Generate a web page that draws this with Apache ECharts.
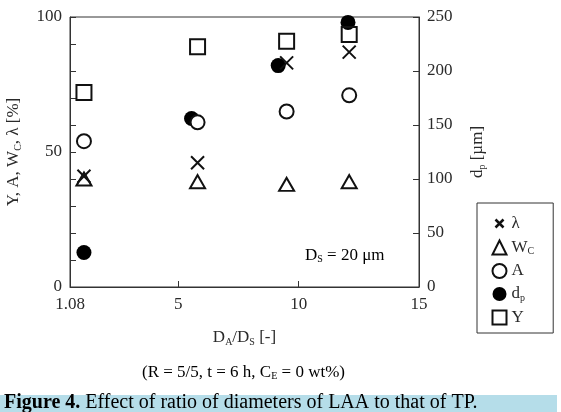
<!DOCTYPE html>
<html>
<head>
<meta charset="utf-8">
<script src="https://cdn.jsdelivr.net/npm/echarts@6/dist/echarts.min.js"></script>
<style>
  html, body { margin: 0; padding: 0; background: #fff; }
  #chart { width: 561px; height: 412px; }
</style>
</head>
<body>
<div id="chart"></div>
<script>
  // D_A/D_S on the x axis
  const daDs = [1.08, 5.8, 9.5, 12.1];
  // filled circles sit a little left of the others
  const daDsDp = [1.08, 5.55, 9.15, 12.05];

  // left axis [%]
  const lambda = [41, 46, 83, 87];
  const wc = [40, 39, 38, 39];
  const aVal = [54, 61, 65, 71];
  const yVal = [72, 89, 91, 93.5];
  // right axis [µm]
  const dp = [32, 156, 205, 245];

  const xTickValues = [5, 10, 15];
  const xLabelValues = [0.5, 5, 10, 15];
  const xLabelTexts = ['1.08', '5', '10', '15'];

  const font = 'Liberation Serif';
  const ink = '#2a2a2a';
  const axisColor = '#333';

  function pairs(xs, ys) {
    return ys.map((v, i) => [xs[i], v]);
  }

  const rich = {
    n: { fontFamily: font, fontSize: 17, color: ink },
    s: { fontFamily: font, fontSize: 10, color: ink, padding: [8, 0, 0, 0] }
  };

  const crossPath = 'path://M0,0L10,10M10,0L0,10';
  // smaller cross in the legend box (the bare moves keep the icon frame)
  const crossIcon = 'path://M0,0M14,14M3,3L11,11M11,3L3,11';

  let myChart = echarts.init(document.getElementById('chart'));

  let options = {
    backgroundColor: '#fff',
    animation: false,
    grid: {
      left: 70, right: 142, top: 17, bottom: 125,
      outerBoundsMode: 'none',
      containLabel: false,
      show: true, borderColor: axisColor, borderWidth: 1
    },
    xAxis: {
      type: 'value',
      min: 0.5,
      max: 15,
      name: '{n|D}{s|A}{n|/D}{s|S}{n| [-]}',
      nameLocation: 'middle',
      nameGap: 42,
      nameTextStyle: { rich: rich },
      axisLine: { show: true, lineStyle: { color: axisColor } },
      axisTick: {
        show: true, inside: true, length: 6,
        customValues: xTickValues,
        lineStyle: { color: axisColor }
      },
      axisLabel: {
        customValues: xLabelValues,
        formatter: function (v) {
          let i = xLabelValues.indexOf(v);
          return i >= 0 ? xLabelTexts[i] : '';
        },
        fontFamily: font, fontSize: 17, color: ink, margin: 9
      },
      splitLine: { show: false }
    },
    yAxis: [{
      type: 'value',
      min: 0, max: 100, interval: 10,
      name: '{n|Y, A, W}{s|C}{n|, λ [%]}',
      nameLocation: 'middle',
      nameRotate: 90,
      nameGap: 47,
      nameTextStyle: { rich: rich },
      axisLine: { show: true, lineStyle: { color: axisColor } },
      axisTick: { show: true, inside: true, length: 6, lineStyle: { color: axisColor } },
      axisLabel: {
        formatter: function (v) { return v % 50 === 0 ? String(v) : ''; },
        fontFamily: font, fontSize: 17, color: ink, margin: 8
      },
      splitLine: { show: false }
    }, {
      type: 'value',
      min: 0, max: 250, interval: 50,
      position: 'right',
      name: '{n|d}{s|p}{n| [µm]}',
      nameLocation: 'middle',
      nameRotate: 90,
      nameGap: 50,
      nameTextStyle: { rich: rich },
      axisLine: { show: true, lineStyle: { color: axisColor } },
      axisTick: { show: true, inside: true, length: 6, lineStyle: { color: axisColor } },
      axisLabel: { fontFamily: font, fontSize: 17, color: ink, margin: 8 },
      splitLine: { show: false }
    }],
    legend: {
      orient: 'vertical',
      left: 477,
      top: 203,
      padding: [11, 19, 7, 13],
      itemWidth: 14,
      itemHeight: 14,
      itemGap: 6,
      borderColor: axisColor,
      borderWidth: 1,
      textStyle: { rich: rich, fontFamily: font, fontSize: 17, color: ink },
      formatter: function (name) {
        if (name === 'Wc') return '{n|W}{s|C}';
        if (name === 'dp') return '{n|d}{s|p}';
        return '{n|' + name + '}';
      },
      data: [
        { name: 'λ', icon: crossIcon, itemStyle: { color: 'none', borderColor: '#111', borderWidth: 2.5 } },
        'Wc', 'A', 'dp', 'Y'
      ]
    },
    series: [{
      name: 'dp',
      type: 'scatter',
      yAxisIndex: 1,
      symbol: 'circle',
      symbolSize: 15,
      itemStyle: { color: '#000', opacity: 1 },
      data: pairs(daDsDp, dp)
    }, {
      name: 'λ',
      type: 'scatter',
      symbol: crossPath,
      symbolSize: 13,
      itemStyle: { color: 'none', borderColor: '#111', borderWidth: 2, opacity: 1 },
      data: pairs(daDs, lambda)
    }, {
      name: 'Wc',
      type: 'scatter',
      symbol: 'triangle',
      symbolSize: [15, 13],
      itemStyle: { color: 'rgba(255,255,255,0)', borderColor: '#111', borderWidth: 2, opacity: 1 },
      data: pairs(daDs, wc)
    }, {
      name: 'A',
      type: 'scatter',
      symbol: 'circle',
      symbolSize: 14,
      itemStyle: { color: '#fff', borderColor: '#111', borderWidth: 2, opacity: 1 },
      data: pairs(daDs, aVal)
    }, {
      name: 'Y',
      type: 'scatter',
      symbol: 'rect',
      symbolSize: 15,
      itemStyle: { color: 'rgba(255,255,255,0)', borderColor: '#111', borderWidth: 2, opacity: 1 },
      data: pairs(daDs, yVal)
    }],
    graphic: [{
      type: 'text',
      left: 305, top: 247,
      style: { text: '{n|D}{s|S}{n| = 20 μm}', rich: rich }
    }, {
      type: 'text',
      left: 142, top: 364,
      style: { text: '{n|(R = 5/5, t = 6 h, C}{s|E}{n| = 0 wt%)}', rich: rich }
    }, {
      type: 'rect',
      shape: { x: 0, y: 395, width: 557, height: 17 },
      style: { fill: '#b5dde9' }
    }, {
      type: 'text',
      left: 4, top: 393,
      style: {
        text: '{b|Figure 4.}{t| Effect of ratio of diameters of LAA to that of TP.}',
        rich: {
          b: { fontFamily: font, fontSize: 20, fontWeight: 'bold', color: '#2378b0' },
          t: { fontFamily: font, fontSize: 20, color: '#111' }
        }
      }
    }]
  };

  myChart.setOption(options);
</script>
</body>
</html>
